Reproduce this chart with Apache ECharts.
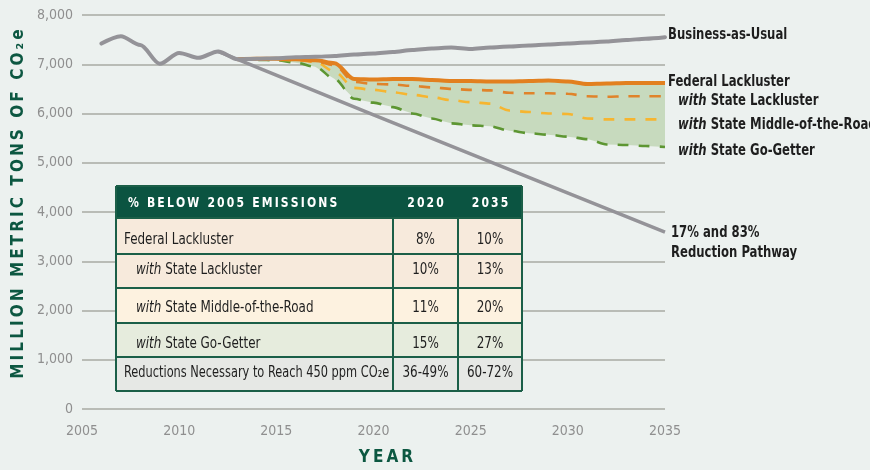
<!DOCTYPE html>
<html>
<head>
<meta charset="utf-8">
<script src="https://cdn.jsdelivr.net/npm/echarts@6/dist/echarts.min.js"></script>
<style>
  html, body { margin: 0; padding: 0; background: #ecf1ef; }
  #chart { width: 870px; height: 470px; }
</style>
</head>
<body>
<div id="chart"></div>
<script>
// historical emissions (shared by all scenarios)
const histYears = [2006, 2007, 2008, 2009, 2010, 2011, 2012];
const histValues = [7420, 7570, 7390, 7010, 7230, 7130, 7260];

// projections
const futureYears = [2013, 2014, 2015, 2016, 2017, 2018, 2019, 2020, 2021, 2022, 2023, 2024,
  2025, 2026, 2027, 2028, 2029, 2030, 2031, 2032, 2033, 2034, 2035];
const bauValues = [7100, 7110, 7120, 7140, 7150, 7170, 7200, 7220, 7250, 7290, 7320, 7340,
  7310, 7340, 7360, 7380, 7400, 7420, 7440, 7460, 7490, 7520, 7550];
const federalValues = [7100, 7110, 7110, 7100, 7080, 7020, 6700, 6690, 6700, 6700, 6680, 6660,
  6660, 6650, 6650, 6660, 6670, 6650, 6600, 6610, 6620, 6620, 6620];
const stateLacklusterValues = [7100, 7100, 7100, 7090, 7060, 6980, 6640, 6600, 6590, 6560, 6530, 6500,
  6480, 6470, 6420, 6410, 6410, 6400, 6350, 6340, 6350, 6350, 6350];
const middleValues = [7100, 7100, 7090, 7080, 7050, 6850, 6520, 6480, 6430, 6380, 6330, 6270,
  6230, 6200, 6060, 6030, 6000, 5990, 5900, 5880, 5880, 5880, 5880];
const goGetterValues = [7100, 7090, 7080, 7030, 6950, 6700, 6300, 6220, 6130, 6000, 5900, 5800,
  5760, 5740, 5650, 5600, 5570, 5530, 5480, 5370, 5360, 5340, 5320];

const pathwayYears = [2012, 2020, 2035];
const pathwayValues = [7260, 5970, 3590];

// axis ticks
const xTicks = [2005, 2010, 2015, 2020, 2025, 2030, 2035];
const yTicks = [0, 1000, 2000, 3000, 4000, 5000, 6000, 7000, 8000];

// table
const tableHeader = ["% BELOW 2005 EMISSIONS", "2020", "2035"];
const tableRows = [
  ["Federal Lackluster", "8%", "10%"],
  ["{i|with} State Lackluster", "10%", "13%"],
  ["{i|with} State Middle-of-the-Road", "11%", "20%"],
  ["{i|with} State Go-Getter", "15%", "27%"],
  ["Reductions Necessary to Reach 450 ppm CO₂e", "36-49%", "60-72%"],
];

const seriesLabels = [
  { text: "Business-as-Usual", x: 668, y: 35 },
  { text: "Federal Lackluster", x: 668, y: 82 },
  { text: "{bi|with} State Lackluster", x: 678, y: 101 },
  { text: "{bi|with} State Middle-of-the-Road", x: 678, y: 125 },
  { text: "{bi|with} State Go-Getter", x: 678, y: 151 },
  { text: "17% and 83%", x: 671, y: 233 },
  { text: "Reduction Pathway", x: 671, y: 253 },
];

const FONT = '"Liberation Sans Narrow", "DejaVu Sans Condensed", "Roboto Condensed", "Liberation Sans", sans-serif';
const GREEN_DARK = "#0c5741";
const TEXT_DARK = "#1e1e1e";

function pairs(xs, ys) {
  return xs.map((x, i) => [x, ys[i]]);
}

// thin spaces between letters, for the tracked-out titles
function spaced(s, gap = "\u2009") {
  return Array.from(s).join(gap);
}

const bauData = pairs(histYears.concat(futureYears), histValues.concat(bauValues));

function buildTable() {
  const colX = [116, 393, 458, 522];
  const rowY = [186, 218, 254, 288, 323, 357, 391];
  const fills = ["#0b5441", "#f7eadc", "#f7eadc", "#fdf2e0", "#e6ecdd", "#e6e8e5"];
  const textX = [124, 136, 136, 136, 124];
  const textDy = [4, -1, 2, 4, -1];
  const textScale = [0.83, 0.83, 0.83, 0.83, 0.79];
  const out = [];

  for (let r = 0; r < rowY.length - 1; r++) {
    out.push({
      type: "rect",
      shape: { x: colX[0], y: rowY[r], width: colX[3] - colX[0], height: rowY[r + 1] - rowY[r] },
      style: { fill: fills[r] },
      z: 100,
    });
  }
  const stroke = { stroke: "#1b5f48", lineWidth: 2 };
  for (let r = 0; r < rowY.length; r++) {
    out.push({ type: "line", shape: { x1: colX[0], y1: rowY[r], x2: colX[3], y2: rowY[r] }, style: stroke, z: 101 });
  }
  for (let c = 0; c < colX.length; c++) {
    const top = c === 0 || c === 3 ? rowY[0] : rowY[1];
    out.push({ type: "line", shape: { x1: colX[c], y1: top, x2: colX[c], y2: rowY[6] }, style: stroke, z: 101 });
  }

  const headY = (rowY[0] + rowY[1]) / 2 + 1;
  out.push({
    type: "text", x: 128, y: headY, z: 102, scaleX: 0.86,
    style: { text: spaced(tableHeader[0]), fill: "#fff", font: `bold 14px ${FONT}`, verticalAlign: "middle" },
  });
  for (let c = 1; c <= 2; c++) {
    out.push({
      type: "text", x: (colX[c] + colX[c + 1]) / 2, y: headY, z: 102, scaleX: 0.86,
      style: { text: spaced(tableHeader[c]), fill: "#fff", font: `bold 14px ${FONT}`, align: "center", verticalAlign: "middle" },
    });
  }

  tableRows.forEach((row, r) => {
    const cy = (rowY[r + 1] + rowY[r + 2]) / 2 + textDy[r];
    out.push({
      type: "text", x: textX[r], y: cy, z: 102, scaleX: textScale[r],
      style: {
        text: row[0], fill: TEXT_DARK, font: `16px ${FONT}`, verticalAlign: "middle",
        rich: { i: { fontStyle: "italic", fontSize: 16, fontFamily: FONT, fill: TEXT_DARK } },
      },
    });
    for (let c = 1; c <= 2; c++) {
      out.push({
        type: "text", x: (colX[c] + colX[c + 1]) / 2, y: cy, z: 102, scaleX: 0.83,
        style: { text: row[c], fill: TEXT_DARK, font: `16px ${FONT}`, align: "center", verticalAlign: "middle" },
      });
    }
  });
  return out;
}

function buildLabels() {
  return seriesLabels.map((l) => ({
    type: "text", x: l.x, y: l.y, z: 102, scaleX: 0.81,
    style: {
      text: l.text, fill: TEXT_DARK, font: `bold 16px ${FONT}`, verticalAlign: "middle",
      rich: { bi: { fontStyle: "italic", fontWeight: "bold", fontSize: 16, fontFamily: FONT, fill: TEXT_DARK } },
    },
  }));
}

const chart = echarts.init(document.getElementById("chart"));

function dashed(name, values, color) {
  return {
    name, type: "line", data: pairs(futureYears, values), z: 3,
    smooth: 0.3, smoothMonotone: "x", showSymbol: false, silent: true,
    lineStyle: { color, width: 2.6, type: [11, 10] },
  };
}

// shaded range between federal lackluster and state go-getter
function renderBand(params, api) {
  const top = futureYears.map((y, i) => api.coord([y, federalValues[i]]));
  const bottom = futureYears.map((y, i) => api.coord([y, goGetterValues[i]])).reverse();
  return {
    type: "polygon",
    shape: { points: top.concat(bottom) },
    style: { fill: "#c7dabe" },
  };
}

const option = {
  backgroundColor: "#ecf1ef",
  animation: false,
  grid: { left: 82, right: 205, top: 15, bottom: 61, containLabel: false },
  xAxis: {
    type: "value", min: 2005, max: 2035, interval: 5,
    axisLine: { show: false }, axisTick: { show: false }, splitLine: { show: false },
    axisLabel: {
      color: "#8f8f8f", fontSize: 14, fontFamily: FONT, margin: 15,
      formatter: (v) => (xTicks.includes(v) ? String(v) : ""),
    },
  },
  yAxis: {
    type: "value", min: 0, max: 8000, interval: 1000,
    axisLine: { show: false }, axisTick: { show: false },
    splitLine: { lineStyle: { color: "#a9aaa3", width: 1.5 } },
    axisLabel: {
      color: "#8f8f8f", fontSize: 14, fontFamily: FONT, margin: 9,
      formatter: (v) => (yTicks.includes(v) ? v.toLocaleString("en-US") : ""),
    },
  },
  graphic: [
    {
      type: "text", x: 19, y: 204, rotation: Math.PI / 2, z: 102,
      style: {
        text: spaced("MILLION METRIC TONS OF CO₂e"), fill: GREEN_DARK,
        font: `bold 17px ${FONT}`, align: "center", verticalAlign: "middle",
      },
    },
    {
      type: "text", x: 386, y: 458, z: 102,
      style: { text: spaced("YEAR"), fill: GREEN_DARK, font: `bold 17px ${FONT}`, align: "center", verticalAlign: "middle" },
    },
    ...buildTable(),
    ...buildLabels(),
  ],
  series: [
    {
      name: "range", type: "custom", renderItem: renderBand, z: 1, silent: true,
      data: [[futureYears[0], federalValues[0]]],
    },
    dashed("with State Go-Getter", goGetterValues, "#5d9632"),
    dashed("with State Middle-of-the-Road", middleValues, "#f6b530"),
    dashed("with State Lackluster", stateLacklusterValues, "#e0832a"),
    {
      name: "Federal Lackluster", type: "line", data: pairs(futureYears, federalValues), z: 4,
      smooth: 0.3, smoothMonotone: "x", showSymbol: false, silent: true,
      lineStyle: { color: "#e2801f", width: 4 },
    },
    {
      name: "17% and 83% Reduction Pathway", type: "line", data: pairs(pathwayYears, pathwayValues), z: 5,
      showSymbol: false, silent: true,
      lineStyle: { color: "#949398", width: 3.5 },
    },
    {
      name: "Business-as-Usual", type: "line", data: bauData, z: 5,
      smooth: 0.3, smoothMonotone: "x", showSymbol: false, silent: true,
      lineStyle: { color: "#949398", width: 4, cap: "round" },
    },
  ],
};

chart.setOption(option);
</script>
</body>
</html>
